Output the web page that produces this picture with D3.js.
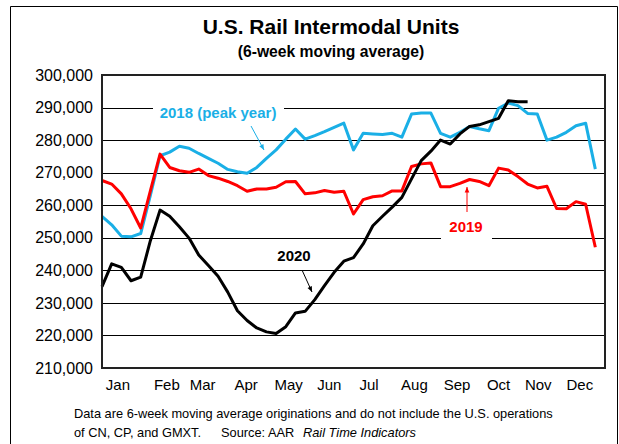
<!DOCTYPE html>
<html>
<head>
<meta charset="utf-8">
<script src="https://cdn.jsdelivr.net/npm/d3@7"></script>
<style>
  body { margin: 0; background: #fff; }
  text { font-family: Arial, "Liberation Sans", sans-serif; }
</style>
</head>
<body>
<div id="chart"></div>
<script>
// weekly 6-week moving averages (units)
let weeks2018 = [256600,254000,250500,250300,251300,263000,275200,276300,278100,277500,275900,274400,272900,271000,270300,269800,271600,274400,277000,280300,283400,280300,281400,282600,283900,285200,277000,282100,281900,281700,282100,280900,288000,288300,288300,282100,280900,282400,284200,283500,282900,289800,291400,290600,288200,288000,280000,280900,282400,284400,285200,271100]
let weeks2019 = [267600,266500,263500,258900,253000,264400,275700,271600,270600,270100,271100,269100,268300,267300,266000,264300,265000,265000,265500,267200,267300,263500,263800,264500,264000,264300,257300,261700,262600,262900,264400,264400,271900,272700,273000,265700,265700,266700,267900,267300,266000,271400,270800,268800,266500,265300,265800,259000,258900,261100,260300,247100]
let weeks2020 = [235000,242000,240900,236800,237900,249100,258500,256600,253400,249900,244700,241500,238200,233300,227600,224600,222300,221100,220600,222700,226900,227400,231000,235300,239400,242800,243900,248100,253700,256600,259400,262400,268100,273700,276600,280000,278800,281900,284200,284700,285700,286700,292100,291800,291800]

let months = ["Jan","Feb","Mar","Apr","May","Jun","Jul","Aug","Sep","Oct","Nov","Dec"]
let monthWeek = [1.65,6.7,10.4,14.9,19.3,23.5,27.6,32.3,36.7,41,45.1,49.4]
let yTicks = [210000,220000,230000,240000,250000,260000,270000,280000,290000,300000]

function chartConfig(){
    let width = 619
    let height = 444
    let margin = { top: 75, bottom: 76, left: 102, right: 14 }
    let bodyWidth = width - margin.left - margin.right
    let bodyHeight = height - margin.top - margin.bottom
    let svg = d3.select("#chart")
                .append("svg")
                .attr("width", width)
                .attr("height", height)
    return { width, height, margin, bodyWidth, bodyHeight, svg }
}

function chartScales(config){
    let { margin, bodyWidth, bodyHeight } = config
    let xScale = d3.scaleLinear()
                .domain([0, 52])
                .range([margin.left, margin.left + bodyWidth])
    let yScale = d3.scaleLinear()
                .domain([210000, 300000])
                .range([margin.top + bodyHeight, margin.top])
    return { xScale, yScale }
}

function drawChart(config, scales){
    let { svg, margin, bodyWidth, bodyHeight } = config
    let { xScale, yScale } = scales

    // outer frame
    svg.append("path")
        .attr("d", "M10.5,444 V6.5 H617.5 V444")
        .style("fill", "none")
        .style("stroke", "#000")
        .style("stroke-width", 1)

    svg.append("text")
        .attr("x", 331).attr("y", 34)
        .attr("text-anchor", "middle")
        .style("font-weight", "bold")
        .style("font-size", "21px")
        .text("U.S. Rail Intermodal Units")
    svg.append("text")
        .attr("x", 331).attr("y", 57)
        .attr("text-anchor", "middle")
        .style("font-weight", "bold")
        .style("font-size", "15.7px")
        .text("(6-week moving average)")

    // gridlines
    svg.append("g")
        .selectAll("line")
        .data(yTicks)
        .enter()
        .append("line")
        .attr("x1", margin.left)
        .attr("x2", margin.left + bodyWidth)
        .attr("y1", d => Math.round(yScale(d)) + 0.5)
        .attr("y2", d => Math.round(yScale(d)) + 0.5)
        .style("stroke", "#000")
        .style("stroke-width", 1)

    let axisY = d3.axisLeft(yScale)
                .tickValues(yTicks)
                .tickFormat(d3.format(","))
                .tickSize(0)
                .tickPadding(9)
    let gy = svg.append("g")
        .attr("transform", "translate(" + margin.left + ",0)")
        .call(axisY)
    gy.select(".domain").remove()
    gy.selectAll("text")
        .style("font-family", "Arial, 'Liberation Sans', sans-serif")
        .style("font-size", "16px")
        .style("fill", "#000")

    // month labels
    svg.append("g")
        .selectAll("text")
        .data(months)
        .enter()
        .append("text")
        .attr("x", (d, i) => xScale(monthWeek[i]))
        .attr("y", 390)
        .attr("text-anchor", "middle")
        .style("font-size", "15px")
        .text(d => d)

    // white boxes behind the labels
    svg.append("rect")
        .attr("x", 153).attr("y", 100).attr("width", 131).attr("height", 22)
        .style("fill", "#fff")
    svg.append("rect")
        .attr("x", 441).attr("y", 214).attr("width", 51).attr("height", 25)
        .style("fill", "#fff")

    let line = d3.line()
                .x((d, i) => xScale(i))
                .y(d => yScale(d))
                .curve(d3.curveLinear)

    let series = [
        { values: weeks2018, color: "#1AAFE6" },
        { values: weeks2019, color: "#FF0000" },
        { values: weeks2020, color: "#000000" }
    ]
    series.forEach(s => {
        svg.append("path")
            .datum(s.values)
            .attr("d", line)
            .style("fill", "none")
            .style("stroke", s.color)
            .style("stroke-width", 3)
            .style("stroke-linejoin", "round")
    })

    // plot frame
    svg.append("rect")
        .attr("x", margin.left)
        .attr("y", margin.top)
        .attr("width", bodyWidth)
        .attr("height", bodyHeight)
        .style("fill", "none")
        .style("stroke", "#222")
        .style("stroke-width", 2)

    // annotations
    let notes = [
        { text: "2018 (peak year)", x: 218, y: 118, color: "#1AAFE6", a: [251, 126, 264, 150] },
        { text: "2019", x: 466, y: 232, color: "#FF0000", a: [467, 212, 467, 187] },
        { text: "2020", x: 294, y: 261, color: "#000000", a: [302, 270, 312, 292] }
    ]
    notes.forEach(n => {
        svg.append("text")
            .attr("x", n.x).attr("y", n.y)
            .attr("text-anchor", "middle")
            .style("font-weight", "bold")
            .style("font-size", "15px")
            .style("fill", n.color)
            .text(n.text)
        let [x1, y1, x2, y2] = n.a
        let ang = Math.atan2(y2 - y1, x2 - x1)
        let len = 6, w = 0.4
        svg.append("line")
            .attr("x1", x1).attr("y1", y1).attr("x2", x2).attr("y2", y2)
            .style("stroke", n.color)
            .style("stroke-width", 1)
        svg.append("path")
            .attr("d", "M" + x2 + "," + y2 +
                " L" + (x2 - len * Math.cos(ang - w)) + "," + (y2 - len * Math.sin(ang - w)) +
                " L" + (x2 - len * Math.cos(ang + w)) + "," + (y2 - len * Math.sin(ang + w)) + " Z")
            .style("fill", n.color)
    })

    // footnote
    svg.append("text")
        .attr("x", 74).attr("y", 418)
        .style("font-size", "12.8px")
        .text("Data are 6-week moving average originations and do not include the U.S. operations")
    let foot = svg.append("text")
        .attr("y", 437)
        .style("font-size", "12.8px")
    foot.append("tspan").attr("x", 74).text("of CN, CP, and GMXT.")
    foot.append("tspan").attr("x", 221).text("Source: AAR")
    foot.append("tspan").attr("x", 303).style("font-style", "italic").text("Rail Time Indicators")
}

let config = chartConfig()
let scales = chartScales(config)
drawChart(config, scales)
</script>
</body>
</html>
